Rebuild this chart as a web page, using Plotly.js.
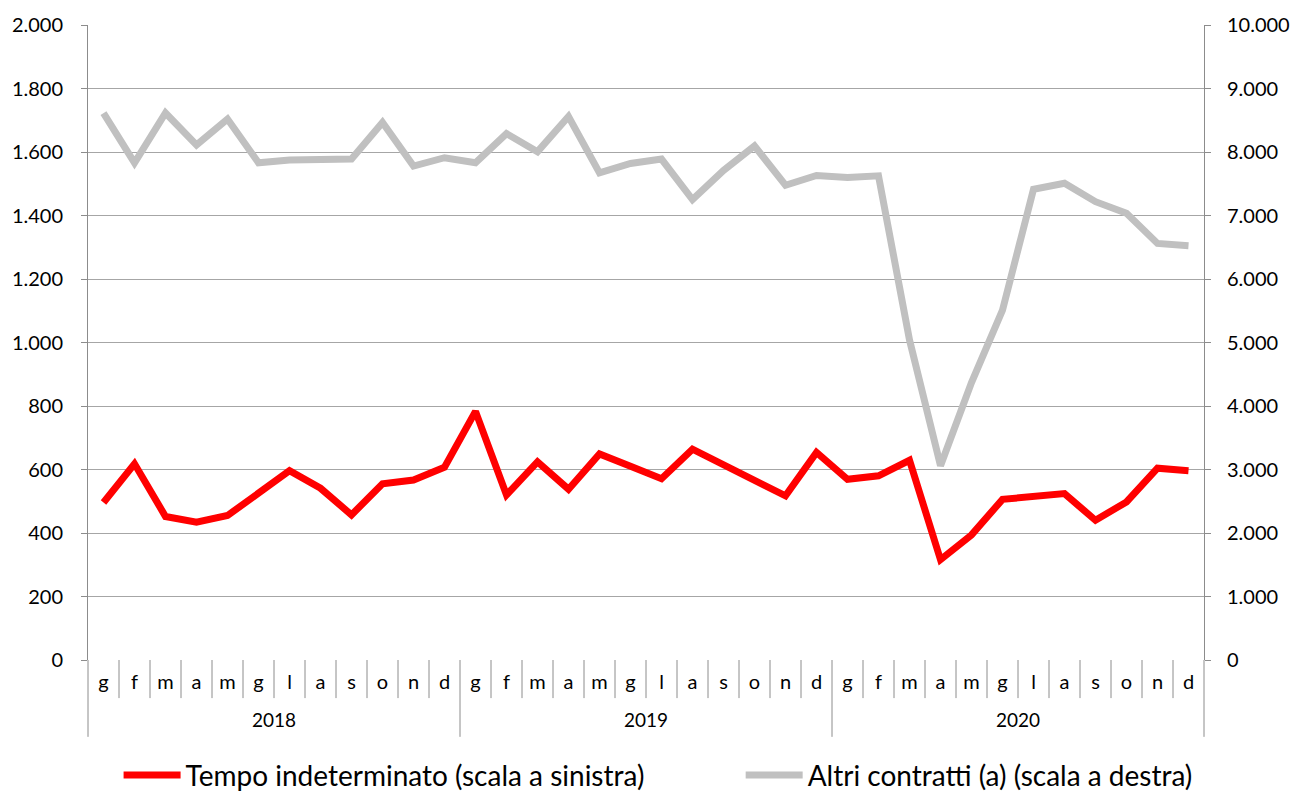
<!DOCTYPE html>
<html>
<head>
<meta charset="utf-8">
<script src="https://cdn.plot.ly/plotly-3.0.1.min.js"></script>
<style>html,body{margin:0;padding:0;background:#fff;}#chart{width:1296px;height:791px;}</style>
</head>
<body>
<div id="chart"></div>
<script>
var years = ['2018', '2019', '2020'];
var months = ['g', 'f', 'm', 'a', 'm', 'g', 'l', 'a', 's', 'o', 'n', 'd'];

var tempoIndeterminato = [
  496, 618, 452, 434, 455, 524, 596, 541, 457, 555, 567, 607,
  783, 520, 624, 538, 649, 610, 571, 664, 616, 568, 517, 654,
  569, 580, 629, 316, 394, 506, 515, 524, 440, 498, 604, 596
];
var altriContratti = [
  8612, 7830, 8614, 8111, 8519, 7830, 7873, 7884, 7889, 8466, 7778, 7910,
  7830, 8290, 8005, 8560, 7672, 7820, 7889, 7250, 7710, 8095, 7476, 7630,
  7600, 7625, 5040, 3060, 4370, 5510, 7413, 7508, 7218, 7035, 6560, 6525
];

var nCat = years.length * months.length;
var xIdx = [], tickText = [];
for (var yi = 0; yi < years.length; yi++) {
  for (var mi = 0; mi < months.length; mi++) {
    xIdx.push(yi * months.length + mi);
    tickText.push(months[mi]);
  }
}

var font = 'Lato, "Open Sans", sans-serif';
var gridColor = '#a6a6a6';
var axisColor = '#8c8c8c';

var traces = [
  {
    x: xIdx, y: tempoIndeterminato, type: 'scatter', mode: 'lines',
    name: 'Tempo indeterminato (scala a sinistra)',
    line: {color: '#ff0000', width: 7, shape: 'linear'},
    yaxis: 'y', legend: 'legend', hoverinfo: 'skip'
  },
  {
    x: xIdx, y: altriContratti, type: 'scatter', mode: 'lines',
    name: 'Altri contratti (a) (scala a destra)',
    line: {color: '#c0c0c0', width: 7, shape: 'linear'},
    yaxis: 'y2', legend: 'legend2', hoverinfo: 'skip'
  }
];

var shapes = [];
for (var i = 0; i <= nCat; i++) {
  var isYear = (i % months.length === 0);
  shapes.push({
    type: 'line', xref: 'paper', yref: 'paper',
    x0: i / nCat, x1: i / nCat, y0: 0, y1: isYear ? -0.121 : -0.06,
    line: {color: axisColor, width: 1}
  });
}

var annotations = years.map(function (yr, k) {
  return {
    x: k * months.length + (months.length - 1) / 2, xref: 'x',
    y: -0.093, yref: 'paper', yanchor: 'middle',
    text: yr, showarrow: false,
    font: {family: font, size: 19, color: '#000'}
  };
});

var legendFont = {family: font, size: 28, color: '#000'};

var layout = {
  width: 1296, height: 791,
  paper_bgcolor: '#fff', plot_bgcolor: '#fff',
  margin: {l: 88, r: 92, t: 25, b: 131},
  font: {family: font, size: 19, color: '#000'},
  showlegend: true,
  legend: {
    orientation: 'h', xref: 'container', yref: 'container',
    x: 0.0915, xanchor: 'left', y: 0.02, yanchor: 'middle',
    font: legendFont, itemwidth: 57, bgcolor: 'rgba(0,0,0,0)'
  },
  legend2: {
    orientation: 'h', xref: 'container', yref: 'container',
    x: 0.5715, xanchor: 'left', y: 0.02, yanchor: 'middle',
    font: legendFont, itemwidth: 57, bgcolor: 'rgba(0,0,0,0)'
  },
  xaxis: {
    range: [-0.5, nCat - 0.5],
    tickmode: 'array', tickvals: xIdx, ticktext: tickText,
    showgrid: false, zeroline: false, showline: false,
    ticks: '', ticklabelstandoff: 8,
    tickfont: {family: font, size: 20, color: '#000'},
    fixedrange: true
  },
  yaxis: {
    range: [0, 2000], dtick: 200, tick0: 0,
    tickformat: ',d',
    showgrid: true, gridcolor: gridColor, gridwidth: 1,
    zeroline: false, showline: true, linecolor: axisColor, linewidth: 1,
    ticks: 'outside', ticklen: 6, tickcolor: axisColor,
    ticklabelstandoff: 14,
    tickfont: {family: font, size: 20, color: '#000'},
    fixedrange: true
  },
  yaxis2: {
    range: [0, 10000], dtick: 1000, tick0: 0,
    tickformat: ',d', overlaying: 'y', side: 'right',
    showgrid: false, zeroline: false, showline: true, linecolor: axisColor, linewidth: 1,
    ticks: 'outside', ticklen: 6, tickcolor: axisColor,
    ticklabelstandoff: 12,
    tickfont: {family: font, size: 20, color: '#000'},
    fixedrange: true
  },
  separators: ',.',
  shapes: shapes,
  annotations: annotations
};

Plotly.newPlot('chart', traces, layout, {displayModeBar: false, staticPlot: true});
</script>
</body>
</html>
